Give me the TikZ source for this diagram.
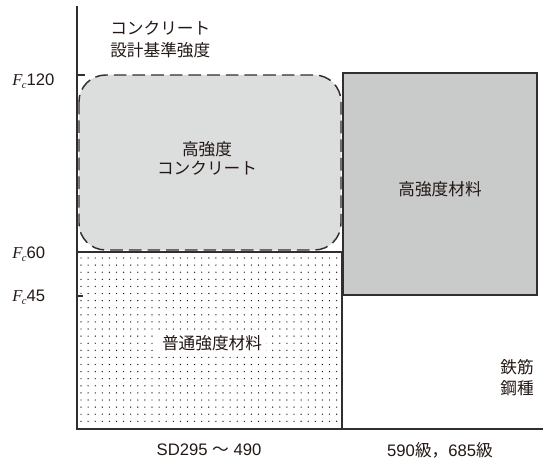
\documentclass[tikz,border=0pt]{standalone}
\usepackage{fontspec}
\setmainfont{Liberation Sans}
\newfontfamily\jp{Noto Sans CJK JP}
\newfontfamily\tms{Liberation Serif}
\definecolor{ink}{RGB}{35,24,21}
\definecolor{edge}{RGB}{50,46,45}
\definecolor{lightfill}{RGB}{220,221,221}
\definecolor{midfill}{RGB}{201,202,202}
\newcommand{\Fc}{{\tms\itshape F\kern-0.5pt\raisebox{-0.35ex}{\fontsize{8}{8}\selectfont c}}}
\tikzset{
  txt/.style={text=ink, inner sep=0pt, font=\fontsize{12.5}{15}\selectfont},
  axisline/.style={draw=edge, line width=1.3pt},
  dashbox/.style={draw=edge, line width=1.1pt, fill=lightfill, dash pattern=on 9.5pt off 4.5pt, rounded corners=20pt},
  graybox/.style={draw=edge, line width=1pt, fill=midfill},
  dotbox/.style={draw=edge, line width=1pt},
}
\begin{document}
\begin{tikzpicture}[x=0.75pt,y=-0.75pt]
\useasboundingbox (0,0) rectangle (543,460);
% high strength material box
\draw[graybox] (343,73) rectangle (537,295);
% high strength concrete (dashed)
\draw[dashbox] (79,75) rectangle (341,250);
% ordinary strength dotted box
\foreach \yy in {258,265.1,...,426} {
  \foreach \xx in {81,88.1,...,339} {
    \fill[ink] (\xx,\yy) circle (0.7);
  }
}
\draw[dotbox] (77,252) rectangle (342,429);
% axes
\coordinate (o) at (77,429);
\coordinate (ytop) at (77,6);
\coordinate (xend) at (543,429);
\draw[axisline] (ytop) -- (o) -- (xend);
\coordinate (t120) at (77,75);
\coordinate (t120e) at (85,75);
\coordinate (t45) at (77,296);
\coordinate (t45e) at (83,296);
\draw[axisline, line width=1pt] (t120) -- (t120e);
\draw[axisline, line width=1pt] (t45) -- (t45e);
% labels
\node[txt, anchor=west] (yl1) at (110,28) {\jp コンクリート};
\node[txt, anchor=west] (yl2) at (110,50) {\jp 設計基準強度};
\node[txt, anchor=west] (f120) at (12,81) {\Fc120};
\node[txt, anchor=west] (f60) at (12,254) {\Fc60};
\node[txt, anchor=west] (f45) at (12,297) {\Fc45};
\node[txt] (hc1) at (207,149) {\jp 高強度};
\node[txt] (hc2) at (207,168) {\jp コンクリート};
\node[txt] (hm) at (440,189) {\jp 高強度材料};
\node[txt, fill=white, inner xsep=3pt, inner ysep=2pt] (om) at (212,343) {\jp 普通強度材料};
\node[txt] (s1) at (517,367) {\jp 鉄筋};
\node[txt] (s2) at (517,388) {\jp 鋼種};
\node[txt] (xl1) at (209,450) {SD295 {\jp ～} 490};
\node[txt] (xl2) at (440,450) {590{\jp 級，}685{\jp 級}};
\end{tikzpicture}
\end{document}
